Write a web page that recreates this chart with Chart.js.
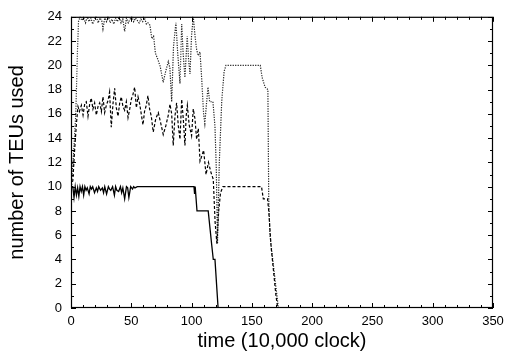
<!DOCTYPE html>
<html>
<head>
<meta charset="utf-8">
<script src="https://cdn.jsdelivr.net/npm/chart.js@4/dist/chart.umd.min.js"></script>
<style>
  html,body{margin:0;padding:0;background:#fff;}
  #c{display:block;}
</style>
</head>
<body>
<canvas id="c" width="514" height="356"></canvas>
<script>
/* TEUs in use over time — three runs */
const solidX = [0,1.5,2.5,3.5,4.5,5.5,6.5,7.5,8.5,9.5,10.5,11.5,12.5,13.5,15,16,17,18,19.5,21,22,23,24.5,26,27,28,29.5,31,32,33,34.5,36,37,38,39.5,41,42,43,44.5,46,47,48,49.5,51,52,53,55,57,102,102.5,103,104.5,113.8,116.6,118,119.4,122];
const solidY = [10,10,9.1,10,9.3,9.9,9.2,10,9.6,10,9.3,10,9.7,9.9,9.4,10,9.8,10,9.5,9.9,9.6,10,9.7,9.9,9.5,10,9.4,10,9.8,9.7,10,9.3,10,9.7,9.6,10,9.5,9.9,9.0,10,9.9,9.1,10,9.8,10,9.9,10,10,10,9.4,10,8,8,5.3,4,4,0];

const dashX = [0,1.5,3,4.5,5.8,7,8.6,10,11.5,12.7,
  14.1,15.5,16.8,18.2,19.6,21,22.4,23.8,25.2,26.5,
  27.9,29.3,30.7,32,33.4,34.8,36.2,37.6,39,40.4,
  41.7,43.1,44.5,45.9,47.3,48.7,50,51.4,52.8,54.2,
  55.6,57,58.4,59.7,61,62.4,63.8,65.2,66.6,68.2,
  70.3,72.4,74.5,76.5,78.6,80.7,82.1,83.5,84.8,86.2,
  87.6,89,90.4,91.8,93.2,94.5,95.5,96.5,98,100,
  101.4,102.8,104.2,105.6,107,108.4,110,112,114,116,
  118,119.5,121,122.5,124,126,158,159.5,163,164,
  166,168,170,171.5];
const dashY = [10,10.5,13,15.2,16.6,16.2,16.7,15.9,16.9,17.0,
  15.8,16.8,17.3,16.4,16.9,15.9,16.6,16.9,16.2,17.4,
  16.1,16.7,17.1,17.8,14.9,16.8,18.1,16.5,15.8,16.9,
  17.4,16.6,16.3,17.0,15.7,16.4,17.2,17.6,18.2,16.5,
  17.4,16.8,15.9,15.1,16.2,16.7,17.5,16.4,15.8,14.5,
  15.6,16.1,15.2,14.3,15.0,15.9,16.8,16.0,13.4,15.8,
  16.9,15.0,13.9,17.2,15.5,13.4,15.8,16.7,15.1,14.2,
  16.4,15.6,13.9,14.8,12.1,12.5,13.0,11.0,12.0,11.2,
  10.6,7.1,5.3,8.0,9.5,10,10,9.0,9.0,8.0,
  5,3,1,0];

const dotX = [0,2,4,5.3,6.2,7.5,9,10.5,12,13.5,
  15,16.5,18,19.5,21,22.5,24,25.5,26.5,28,
  29.5,31,32.5,34,35.5,37,38.5,40,41.5,43,
  44.5,46,47.5,49,50.5,52,53.5,55,56.5,58,
  59.5,61,62.5,63.8,65.5,67,68.5,70,72,74,
  76.5,78.5,80.7,82,83.5,85,87,88.5,90.4,91.8,
  93,94.5,96.4,97.5,98.7,100,101.4,102.8,104.2,105.5,
  107,108.4,110,111,112.5,113.6,115,117.7,119.4,120.5,
  121.5,123,125,127,128.5,157,158.5,161,163.3,164,
  165,168,172];
const dotY = [10,12.5,16,21,23.6,24,23.7,23.9,23.5,24,
  23.6,23.9,23.4,23.8,24,23.5,23.9,23.7,23.0,23.9,
  23.6,24,23.5,23.8,23.4,23.9,23.6,24,23.5,23.8,
  22.8,23.9,23.5,23.8,24,23.6,23.9,23.7,23.5,23.8,
  23.6,23.9,23.4,23.5,23.3,22.2,22.4,21.0,20.5,19.9,
  18.6,19.5,20.3,19.8,17.0,21.5,23.5,21.0,18.5,23.4,
  21.0,19.0,22.4,20.5,19.3,22.5,24,22.5,21.3,20.8,
  21.1,18.9,16.0,15.2,17.0,18.2,17.0,17.0,15.0,11.5,
  5.3,12,17,19.5,20,20,19.0,18.2,18,9,
  6,3.4,0];

const xTicks = [0,50,100,150,200,250,300,350];
const yTicks = [0,2,4,6,8,10,12,14,16,18,20,22,24];

const pts = (xs,ys) => xs.map((x,i)=>({x:x,y:ys[i]}));
const FONT = '"Liberation Sans", Arial, sans-serif';

/* gnuplot-like frame with inward ticks on all sides */
const frame = {
  id:'frame',
  afterDraw(chart){
    const {ctx, chartArea:a, scales:{x,y}} = chart;
    ctx.save();
    ctx.strokeStyle='#000'; ctx.lineWidth=1.2;
    ctx.strokeRect(a.left+0.5,a.top+0.5,a.right-a.left-1,a.bottom-a.top-1);
    ctx.lineWidth=1;
    ctx.beginPath();
    for(let v=0; v<=350; v+=10){
      const p=Math.round(x.getPixelForValue(v))+0.5, L=(v%50===0)?5:3;
      ctx.moveTo(p,a.bottom); ctx.lineTo(p,a.bottom-L);
      ctx.moveTo(p,a.top); ctx.lineTo(p,a.top+L);
    }
    for(let v=0; v<=24; v+=1){
      const p=Math.round(y.getPixelForValue(v))+0.5, L=(v%2===0)?5:3;
      ctx.moveTo(a.left,p); ctx.lineTo(a.left+L,p);
      ctx.moveTo(a.right,p); ctx.lineTo(a.right-L,p);
    }
    ctx.stroke();
    ctx.restore();
  }
};

try{
new Chart(document.getElementById('c'),{
  type:'scatter',
  data:{datasets:[
    {data:pts(solidX,solidY), showLine:true, borderColor:'#000', borderWidth:1.3, pointRadius:0, tension:0},
    {data:pts(dashX,dashY), showLine:true, borderColor:'#000', borderWidth:1.2, borderDash:[3,2], pointRadius:0, tension:0},
    {data:pts(dotX,dotY), showLine:true, borderColor:'#222', borderWidth:1.2, borderDash:[1.2,1.3], pointRadius:0, tension:0}
  ]},
  options:{
    responsive:false, animation:false,
    layout:{padding:{top:12,right:21,left:0,bottom:0}},
    plugins:{legend:{display:false}, tooltip:{enabled:false}},
    scales:{
      x:{type:'linear', min:0, max:350,
        afterFit:s=>{s.height=48;},
        afterBuildTicks:s=>{s.ticks=xTicks.map(v=>({value:v}));},
        grid:{display:false, drawTicks:false}, border:{display:false},
        ticks:{color:'#000', padding:6, maxRotation:0, font:{family:FONT,size:13}},
        title:{display:true, text:'time (10,000 clock)', color:'#000', padding:{top:0,bottom:3}, font:{family:FONT,size:20}}},
      y:{type:'linear', min:0, max:24,
        afterFit:s=>{s.width=71;},
        afterBuildTicks:s=>{s.ticks=yTicks.map(v=>({value:v}));},
        grid:{display:false, drawTicks:false}, border:{display:false},
        ticks:{color:'#000', padding:9, font:{family:FONT,size:13}},
        title:{display:true, text:'number of TEUs used', color:'#000', padding:{top:5,bottom:0}, font:{family:FONT,size:20}}}
    }
  },
  plugins:[frame]
});
}catch(e){document.body.innerHTML='<pre style="font-size:11px;color:#c00">'+((e&&e.stack)||e)+'</pre>';}
</script>
</body>
</html>
